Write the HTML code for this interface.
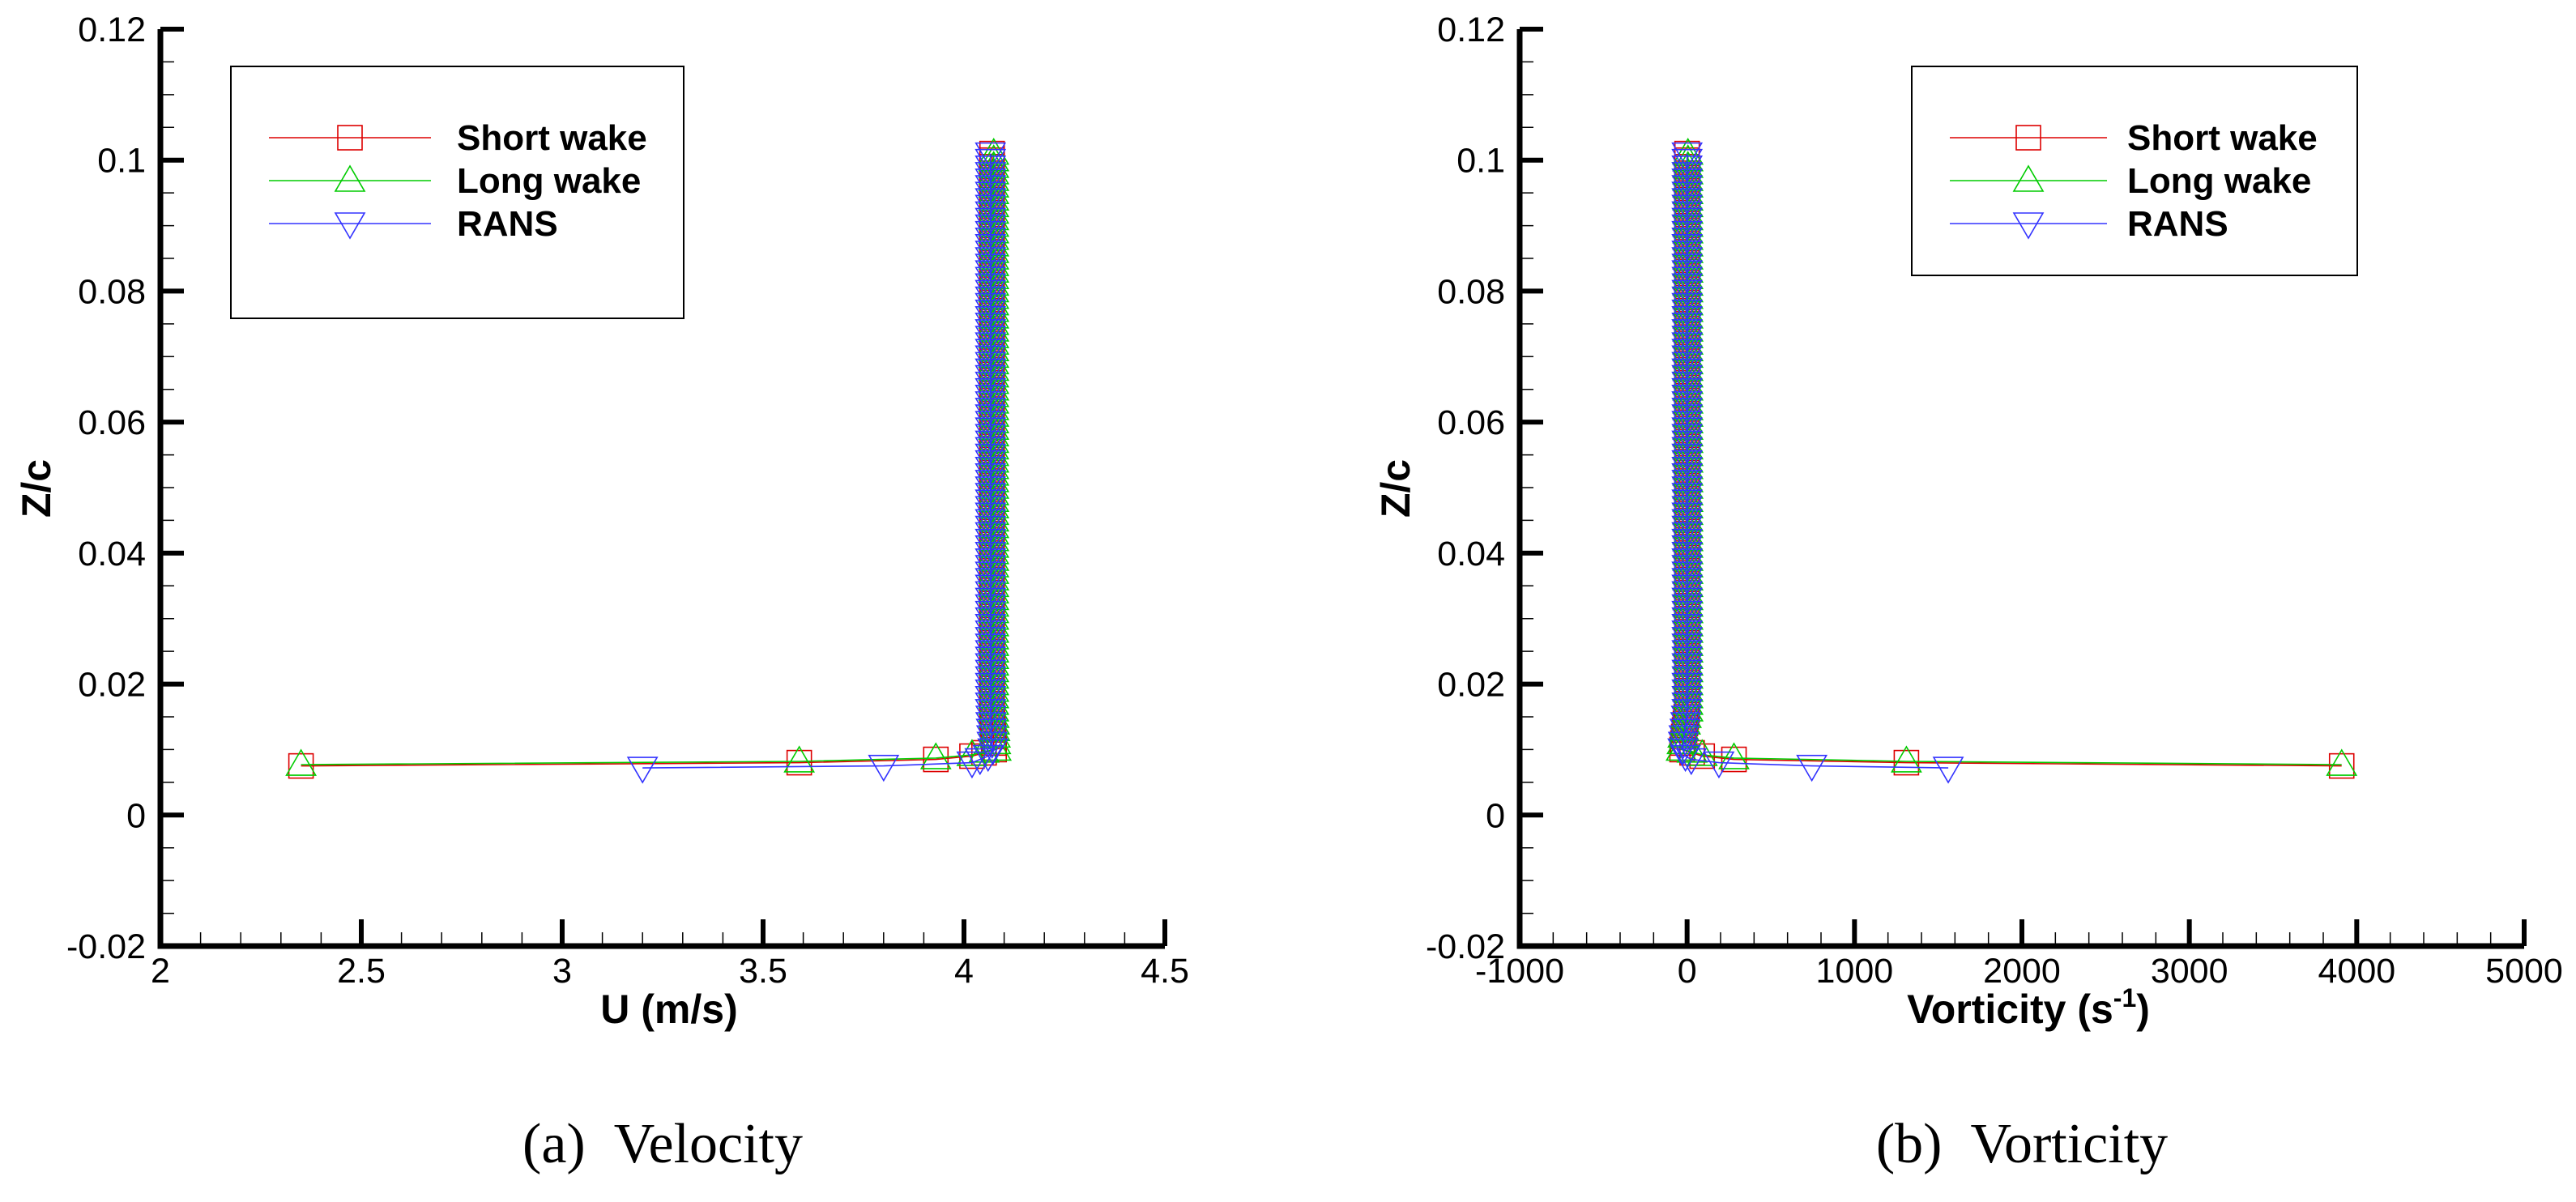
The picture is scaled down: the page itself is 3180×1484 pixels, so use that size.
<!DOCTYPE html>
<html><head><meta charset="utf-8"><style>
html,body{margin:0;padding:0;background:#fff;}
svg{display:block;font-family:"Liberation Sans",Arial,sans-serif;}
</style></head><body>
<svg id="fig" width="3180" height="1484" viewBox="0 0 3180 1484" xmlns="http://www.w3.org/2000/svg">
<rect width="3180" height="1484" fill="#fff"/>
<g id="plotA"></g>
<g id="plotB"></g>
</svg>
<script>
// ---- shared z data (Z/c) for the vertical cluster ----
const clusterZ = [0.010,0.011,0.012,0.013,0.014,0.015,0.016,0.017,0.018,0.019,0.020,0.021,0.022,0.023,0.024,0.025,0.026,0.027,0.028,0.029,0.030,0.031,0.032,0.033,0.034,0.035,0.036,0.037,0.038,0.039,0.040,0.041,0.042,0.043,0.044,0.045,0.046,0.047,0.048,0.049,0.050,0.051,0.052,0.053,0.054,0.055,0.056,0.057,0.058,0.059,0.060,0.061,0.062,0.063,0.064,0.065,0.066,0.067,0.068,0.069,0.070,0.071,0.072,0.073,0.074,0.075,0.076,0.077,0.078,0.079,0.080,0.081,0.082,0.083,0.084,0.085,0.086,0.087,0.088,0.089,0.090,0.091,0.092,0.093,0.094,0.095,0.096,0.097,0.098,0.099,0.100,0.101];
// ---- Velocity plot data ----
const uTicks = [2,2.5,3,3.5,4,4.5];
const uTickLabels = ["2","2.5","3","3.5","4","4.5"];
const zTicks = [-0.02,0,0.02,0.04,0.06,0.08,0.1,0.12];
const zTickLabels = ["-0.02","0","0.02","0.04","0.06","0.08","0.1","0.12"];
const shortHeadU = [2.35,3.59,3.93,4.02,4.05];
const shortHeadZ = [0.0075,0.008,0.0085,0.009,0.0095];
const longHeadU = [2.35,3.59,3.93,4.02,4.05];
const longHeadZ = [0.0077,0.0082,0.0087,0.0092,0.0097];
const ransHeadU = [3.2,3.8,4.02,4.04,4.06];
const ransHeadZ = [0.0072,0.0075,0.008,0.0085,0.009];
const shortClusterU = [4.075,4.074,4.073,4.072,4.071,4.07,4.07,4.07,4.07,4.07,4.07,4.07,4.07,4.07,4.07,4.07,4.07,4.07,4.07,4.07,4.07,4.07,4.07,4.07,4.07,4.07,4.07,4.07,4.07,4.07,4.07,4.07,4.07,4.07,4.07,4.07,4.07,4.07,4.07,4.07,4.07,4.07,4.07,4.07,4.07,4.07,4.07,4.07,4.07,4.07,4.07,4.07,4.07,4.07,4.07,4.07,4.07,4.07,4.07,4.07,4.07,4.07,4.07,4.07,4.07,4.07,4.07,4.07,4.07,4.07,4.07,4.07,4.07,4.07,4.07,4.07,4.07,4.07,4.07,4.07,4.07,4.07,4.07,4.07,4.07,4.07,4.07,4.07,4.07,4.07,4.07,4.07];
const longClusterU = [4.08,4.079,4.078,4.077,4.076,4.075,4.074,4.074,4.074,4.074,4.074,4.074,4.074,4.074,4.074,4.074,4.074,4.074,4.074,4.074,4.074,4.074,4.074,4.074,4.074,4.074,4.074,4.074,4.074,4.074,4.074,4.074,4.074,4.074,4.074,4.074,4.074,4.074,4.074,4.074,4.074,4.074,4.074,4.074,4.074,4.074,4.074,4.074,4.074,4.074,4.074,4.074,4.074,4.074,4.074,4.074,4.074,4.074,4.074,4.074,4.074,4.074,4.074,4.074,4.074,4.074,4.074,4.074,4.074,4.074,4.074,4.074,4.074,4.074,4.074,4.074,4.074,4.074,4.074,4.074,4.074,4.074,4.074,4.074,4.074,4.074,4.074,4.074,4.074,4.074,4.074,4.074];
const ransClusterU = [4.072,4.07,4.069,4.068,4.067,4.067,4.066,4.066,4.066,4.066,4.066,4.066,4.066,4.066,4.066,4.066,4.066,4.066,4.066,4.066,4.066,4.066,4.066,4.066,4.066,4.066,4.066,4.066,4.066,4.066,4.066,4.066,4.066,4.066,4.066,4.066,4.066,4.066,4.066,4.066,4.066,4.066,4.066,4.066,4.066,4.066,4.066,4.066,4.066,4.066,4.066,4.066,4.066,4.066,4.066,4.066,4.066,4.066,4.066,4.066,4.066,4.066,4.066,4.066,4.066,4.066,4.066,4.066,4.066,4.066,4.066,4.066,4.066,4.066,4.066,4.066,4.066,4.066,4.066,4.066,4.066,4.066,4.066,4.066,4.066,4.066,4.066,4.066,4.066,4.066,4.066,4.066];
// ---- Vorticity plot data ----
const wTicks = [-1000,0,1000,2000,3000,4000,5000];
const wTickLabels = ["-1000","0","1000","2000","3000","4000","5000"];
const shortHeadW = [3910,1310,280,90,30];
const longHeadW = [3910,1310,280,90,30];
const ransHeadW = [1560,745,190,25,-10];
const shortClusterW = [-30,-25,-20,-15,-10,-5,0,0,0,0,0,0,0,0,0,0,0,0,0,0,0,0,0,0,0,0,0,0,0,0,0,0,0,0,0,0,0,0,0,0,0,0,0,0,0,0,0,0,0,0,0,0,0,0,0,0,0,0,0,0,0,0,0,0,0,0,0,0,0,0,0,0,0,0,0,0,0,0,0,0,0,0,0,0,0,0,0,0,0,0,0,0];
const longClusterW = [-35,-30,-25,-18,-10,-5,5,5,5,5,5,5,5,5,5,5,5,5,5,5,5,5,5,5,5,5,5,5,5,5,5,5,5,5,5,5,5,5,5,5,5,5,5,5,5,5,5,5,5,5,5,5,5,5,5,5,5,5,5,5,5,5,5,5,5,5,5,5,5,5,5,5,5,5,5,5,5,5,5,5,5,5,5,5,5,5,5,5,5,5,5,5];
const ransClusterW = [-25,-22,-18,-12,-8,-4,0,0,0,0,0,0,0,0,0,0,0,0,0,0,0,0,0,0,0,0,0,0,0,0,0,0,0,0,0,0,0,0,0,0,0,0,0,0,0,0,0,0,0,0,0,0,0,0,0,0,0,0,0,0,0,0,0,0,0,0,0,0,0,0,0,0,0,0,0,0,0,0,0,0,0,0,0,0,0,0,0,0,0,0,0,0];
const seriesNames = ["Short wake","Long wake","RANS"];
const seriesColors = ["#dd0000","#00cc00","#3333ff"];

const NS = "http://www.w3.org/2000/svg";
function mk(parent, tag, attrs, text){
  const e = document.createElementNS(NS, tag);
  for (const k in attrs) e.setAttribute(k, attrs[k]);
  if (text !== undefined) e.textContent = text;
  parent.appendChild(e);
  return e;
}
const Y0 = 36, YB = 1168;
function yScale(v){ return Y0 + (0.12 - v) / 0.14 * (YB - Y0); }

function marker(g, kind, x, y, color){
  let e;
  if (kind === 0){
    e = mk(g, "rect", {x:x-15, y:y-15, width:30, height:30, fill:"none", stroke:color, "stroke-width":1.6});
  } else if (kind === 1){
    e = mk(g, "polygon", {points:`${x},${y-18} ${x-18},${y+13} ${x+18},${y+13}`, fill:"none", stroke:color, "stroke-width":1.6});
  } else {
    e = mk(g, "polygon", {points:`${x},${y+18} ${x-18},${y-13} ${x+18},${y-13}`, fill:"none", stroke:color, "stroke-width":1.6});
  }
  
  
  return e;
}

function drawPlot(g, cfg){
  const xs = v => cfg.x0 + (v - cfg.xmin) / (cfg.xmax - cfg.xmin) * (cfg.x1 - cfg.x0);
  const sg = mk(g, "g", {});
  
  
  cfg.series.forEach((s, i) => {
    const xsArr = s.head.concat(s.cluster);
    const zsArr = s.headZ.concat(clusterZ);
    const order = xsArr.map((v, k) => [v, zsArr[k]]).sort((a, b) => a[1] - b[1]);
    const pts = order.map(p => `${xs(p[0]).toFixed(1)},${yScale(p[1]).toFixed(1)}`).join(" ");
    const line = mk(sg, "polyline", {points:pts, fill:"none", stroke:seriesColors[i], "stroke-width":1.6});
    
    
    order.forEach(p => marker(sg, i, xs(p[0]), yScale(p[1]), seriesColors[i]));
  });
  const ax = mk(g, "g", {});
  
  
  mk(ax, "path", {d:`M${cfg.x0},${Y0} V${YB} H${cfg.x1}`, fill:"none", stroke:"#000", "stroke-width":7, "stroke-linejoin":"miter"});
  zTicks.forEach((v, k) => {
    const y = yScale(v);
    mk(ax, "line", {x1:cfg.x0, x2:cfg.x0+29, y1:y, y2:y, stroke:"#000", "stroke-width":6});
    const t = mk(ax, "text", {x:cfg.x0-18, y:y+15, "text-anchor":"end", "font-size":43}, zTickLabels[k]);
    
    
    if (k < zTicks.length - 1){
      for (let m = 1; m < 4; m++){
        const ym = yScale(v + m * 0.005);
        mk(ax, "line", {x1:cfg.x0, x2:cfg.x0+17, y1:ym, y2:ym, stroke:"#000", "stroke-width":1.5});
      }
    }
  });
  cfg.ticks.forEach((v, k) => {
    const x = xs(v);
    mk(ax, "line", {x1:x, x2:x, y1:YB, y2:YB-33, stroke:"#000", "stroke-width":6});
    const t = mk(ax, "text", {x:x, y:1213, "text-anchor":"middle", "font-size":43}, cfg.labels[k]);
    
    
    if (k < cfg.ticks.length - 1){
      const step = (cfg.ticks[1] - cfg.ticks[0]) / 5;
      for (let m = 1; m < 5; m++){
        const xm = xs(v + m * step);
        mk(ax, "line", {x1:xm, x2:xm, y1:YB, y2:YB-17, stroke:"#000", "stroke-width":1.5});
      }
    }
  });
  const yt = mk(g, "text", {x:0, y:0, transform:`translate(${cfg.x0-136},603) rotate(-90)`, "text-anchor":"middle", "font-size":50, "font-weight":"bold"}, "Z/c");
  
  
  const xt = mk(g, "text", {x:(cfg.x0+cfg.x1)/2+8, y:1263, "text-anchor":"middle", "font-size":50, "font-weight":"bold"});
  
  
  xt.appendChild(document.createTextNode(cfg.xtitle));
  if (cfg.sup){
    mk(xt, "tspan", {"font-size":32, dy:-20}, "-1");
    mk(xt, "tspan", {dy:20}, ")");
  }
  const lg = mk(g, "g", {});
  
  
  mk(lg, "rect", {x:cfg.lx, y:cfg.ly, width:cfg.lw, height:cfg.lh, fill:"#fff", stroke:"#000", "stroke-width":2});
  seriesNames.forEach((n, i) => {
    const y = cfg.ly + 88 + i * 53;
    const e = mk(lg, "g", {});
    
    
    mk(e, "line", {x1:cfg.lx+47, x2:cfg.lx+47+cfg.ll, y1:y, y2:y, stroke:seriesColors[i], "stroke-width":1.6});
    marker(e, i, cfg.lx+47+cfg.ll/2, y, seriesColors[i]);
    mk(e, "text", {x:cfg.lx+cfg.tx, y:y+15, "font-size":44, "font-weight":"bold"}, n);
  });
  const cp = mk(g, "text", {x:(cfg.x0+cfg.x1)/2, y:1435, "text-anchor":"middle", "font-size":70, "font-family":"'Liberation Serif',serif"}, cfg.caption);
  
  
}

drawPlot(document.getElementById("plotA"), {
  x0:198, x1:1438, xmin:2, xmax:4.5, ticks:uTicks, labels:uTickLabels,
  xtitle:"U (m/s)", sup:false, caption:"(a)\u00a0\u00a0Velocity",
  lx:285, ly:82, lw:559, lh:311, ll:200, tx:279,
  series:[
    {head:shortHeadU, headZ:shortHeadZ, cluster:shortClusterU},
    {head:longHeadU, headZ:longHeadZ, cluster:longClusterU},
    {head:ransHeadU, headZ:ransHeadZ, cluster:ransClusterU}
  ]
});
drawPlot(document.getElementById("plotB"), {
  x0:1876, x1:3116, xmin:-1000, xmax:5000, ticks:wTicks, labels:wTickLabels,
  xtitle:"Vorticity (s", sup:true, caption:"(b)\u00a0\u00a0Vorticity",
  lx:2360, ly:82, lw:550, lh:258, ll:194, tx:266,
  series:[
    {head:shortHeadW, headZ:shortHeadZ, cluster:shortClusterW},
    {head:longHeadW, headZ:longHeadZ, cluster:longClusterW},
    {head:ransHeadW, headZ:ransHeadZ, cluster:ransClusterW}
  ]
});
</script>
</body></html>
